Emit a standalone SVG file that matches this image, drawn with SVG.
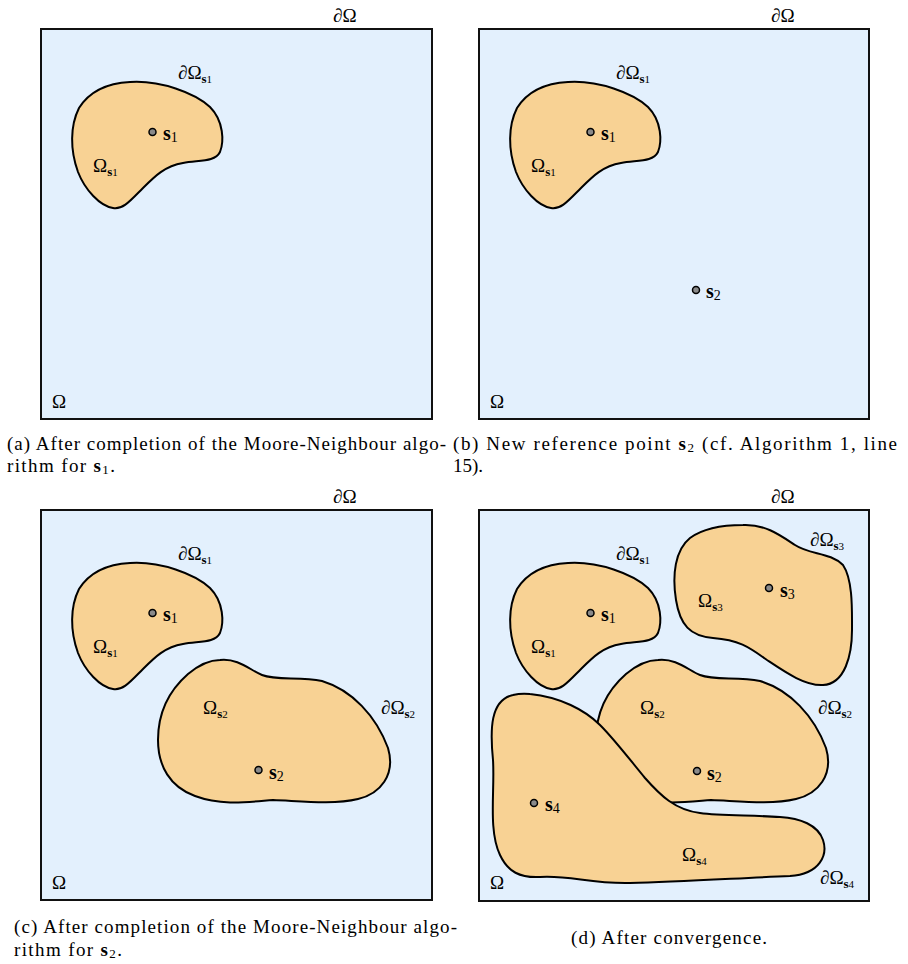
<svg xmlns="http://www.w3.org/2000/svg" width="908" height="964" viewBox="0 0 908 964">
<style>
.dom{fill:#e3f0fd;stroke:#111;stroke-width:2}
.blob{fill:#f8d294;stroke:#000;stroke-width:2;stroke-linejoin:round}
.pt{fill:#8a8a8a;stroke:#000;stroke-width:1.5}
.m{font-family:"Liberation Serif","DejaVu Serif",serif;font-size:19px;fill:#000}
.sb{font-weight:bold;font-size:13px}
.si{font-size:11px}
.b{font-weight:bold;font-size:20px}
.n{font-size:14px}
.cap{font-family:"Liberation Serif","DejaVu Serif",serif;font-size:19px;fill:#000}
</style>
<defs>
<path id="b1" d="M130,82 C160,80 195,93 210,107 C224,121 224,142 220,152 C215,162 200,160 183,163 C165,166 155,176 143,188 C131,200 123,210 113,208 C100,206 85,190 78,172 C70,150 70,126 79,108 C91,89 110,83 130,82 Z"/>
<path id="b2" d="M220,660 C238,658 250,670 262,675 C277,681 300,676 322,681 C352,690 376,716 388,748 C396,775 380,794 358,799 C333,805 300,801 273,800 C248,802 222,806 195,796 C170,787 158,766 158,740 C158,710 172,688 188,674 C200,664 210,660 220,660 Z"/>
</defs>

<g id="panel-a">
<rect class="dom" x="41" y="29" width="391" height="390"/>
<text class="m" x="333" y="22">∂Ω</text>
<text class="m" x="52" y="408">Ω</text>
<g id="a-blob-s1">
<use href="#b1" class="blob"/>
<circle class="pt" cx="152.5" cy="132" r="3.5"/>
<text class="m" x="163" y="140"><tspan class="b">s</tspan><tspan class="n" dy="2">1</tspan></text>
<text class="m" x="178" y="79">∂Ω<tspan class="sb" dy="4">s</tspan><tspan class="si">1</tspan></text>
<text class="m" x="93" y="172">Ω<tspan class="sb" dy="4">s</tspan><tspan class="si">1</tspan></text>
</g>
</g>

<g id="panel-b">
<rect class="dom" x="479" y="29" width="390" height="390"/>
<text class="m" x="771" y="22">∂Ω</text>
<text class="m" x="490" y="408">Ω</text>
<g id="b-blob-s1" transform="translate(438,0)">
<use href="#b1" class="blob"/>
<circle class="pt" cx="152.5" cy="132" r="3.5"/>
<text class="m" x="163" y="140"><tspan class="b">s</tspan><tspan class="n" dy="2">1</tspan></text>
<text class="m" x="178" y="79">∂Ω<tspan class="sb" dy="4">s</tspan><tspan class="si">1</tspan></text>
<text class="m" x="93" y="172">Ω<tspan class="sb" dy="4">s</tspan><tspan class="si">1</tspan></text>
</g>
<g id="b-s2">
<circle class="pt" cx="696" cy="290" r="3.5"/>
<text class="m" x="706" y="298"><tspan class="b">s</tspan><tspan class="n" dy="2">2</tspan></text>
</g>
</g>

<g id="panel-c">
<rect class="dom" x="41" y="510" width="391" height="390"/>
<text class="m" x="333" y="503">∂Ω</text>
<text class="m" x="52" y="889">Ω</text>
<g id="c-blob-s1" transform="translate(0,481)">
<use href="#b1" class="blob"/>
<circle class="pt" cx="152.5" cy="132" r="3.5"/>
<text class="m" x="163" y="140"><tspan class="b">s</tspan><tspan class="n" dy="2">1</tspan></text>
<text class="m" x="178" y="79">∂Ω<tspan class="sb" dy="4">s</tspan><tspan class="si">1</tspan></text>
<text class="m" x="93" y="172">Ω<tspan class="sb" dy="4">s</tspan><tspan class="si">1</tspan></text>
</g>
<g id="c-blob-s2">
<use href="#b2" class="blob"/>
<circle class="pt" cx="258.5" cy="770" r="3.5"/>
<text class="m" x="269" y="779"><tspan class="b">s</tspan><tspan class="n" dy="2">2</tspan></text>
<text class="m" x="203" y="714">Ω<tspan class="sb" dy="4">s</tspan><tspan class="si">2</tspan></text>
<text class="m" x="381" y="714">∂Ω<tspan class="sb" dy="4">s</tspan><tspan class="si">2</tspan></text>
</g>
</g>

<g id="panel-d">
<rect class="dom" x="479" y="510" width="390" height="391"/>
<text class="m" x="771" y="503">∂Ω</text>
<text class="m" x="490" y="889">Ω</text>
<g id="d-blob-s1" transform="translate(438,481)">
<use href="#b1" class="blob"/>
<circle class="pt" cx="152.5" cy="132" r="3.5"/>
<text class="m" x="163" y="140"><tspan class="b">s</tspan><tspan class="n" dy="2">1</tspan></text>
<text class="m" x="178" y="79">∂Ω<tspan class="sb" dy="4">s</tspan><tspan class="si">1</tspan></text>
<text class="m" x="93" y="172">Ω<tspan class="sb" dy="4">s</tspan><tspan class="si">1</tspan></text>
</g>
<g id="d-blob-s3">
<path class="blob" d="M743,525 C765,524 780,535 795,545 C810,555 830,552 843,565 C853,580 852,610 852,630 C852,655 845,684 823,685 C805,686 785,672 767,660 C750,648 740,640 713,638 C690,636 680,625 676,600 C672,575 675,550 690,538 C705,527 725,525 743,525 Z"/>
<circle class="pt" cx="769" cy="588" r="3.5"/>
<text class="m" x="780" y="597"><tspan class="b">s</tspan><tspan class="n" dy="2">3</tspan></text>
<text class="m" x="698" y="607">Ω<tspan class="sb" dy="4">s</tspan><tspan class="si">3</tspan></text>
<text class="m" x="810" y="546">∂Ω<tspan class="sb" dy="4">s</tspan><tspan class="si">3</tspan></text>
</g>
<g id="d-blob-s2">
<use href="#b2" class="blob" transform="translate(438,0)"/>
<circle class="pt" cx="697" cy="771" r="3.5"/>
<text class="m" x="707" y="780"><tspan class="b">s</tspan><tspan class="n" dy="2">2</tspan></text>
<text class="m" x="640" y="714">Ω<tspan class="sb" dy="4">s</tspan><tspan class="si">2</tspan></text>
<text class="m" x="818" y="714">∂Ω<tspan class="sb" dy="4">s</tspan><tspan class="si">2</tspan></text>
</g>
<g id="d-blob-s4">
<path class="blob" d="M513,695 C490,700 490,730 493,760 C495,790 488,830 500,855 C508,872 520,878 540,877 C570,875 590,884 630,883 C680,882 740,878 790,876 C820,874 828,855 823,840 C818,825 800,818 780,817 C750,815 720,816 700,813 C675,810 660,795 645,778 C630,760 615,740 600,725 C585,710 560,697 530,694 C522,693 517,694 513,695 Z"/>
<circle class="pt" cx="534" cy="803" r="3.5"/>
<text class="m" x="545" y="811"><tspan class="b">s</tspan><tspan class="n" dy="2">4</tspan></text>
<text class="m" x="682" y="861">Ω<tspan class="sb" dy="4">s</tspan><tspan class="si">4</tspan></text>
<text class="m" x="820" y="884">∂Ω<tspan class="sb" dy="4">s</tspan><tspan class="si">4</tspan></text>
</g>
</g>

<g id="captions">
<text class="cap" x="7" y="450" textLength="439" lengthAdjust="spacing">(a) After completion of the Moore-Neighbour algo-</text>
<text class="cap" x="7" y="472" textLength="108" lengthAdjust="spacing">rithm for <tspan font-weight="bold">s</tspan><tspan font-size="13" dy="2">1</tspan><tspan dy="-2">.</tspan></text>
<text class="cap" x="453" y="450" textLength="444" lengthAdjust="spacing">(b) New reference point <tspan font-weight="bold">s</tspan><tspan font-size="13" dy="2">2</tspan><tspan dy="-2"> (cf.  Algorithm 1, line</tspan></text>
<text class="cap" x="453" y="472" textLength="30" lengthAdjust="spacing">15).</text>
<text class="cap" x="14" y="933" textLength="443" lengthAdjust="spacing">(c) After completion of the Moore-Neighbour algo-</text>
<text class="cap" x="14" y="956" textLength="108" lengthAdjust="spacing">rithm for <tspan font-weight="bold">s</tspan><tspan font-size="13" dy="2">2</tspan><tspan dy="-2">.</tspan></text>
<text class="cap" x="571" y="944" textLength="196" lengthAdjust="spacing">(d) After convergence.</text>
</g>
</svg>
